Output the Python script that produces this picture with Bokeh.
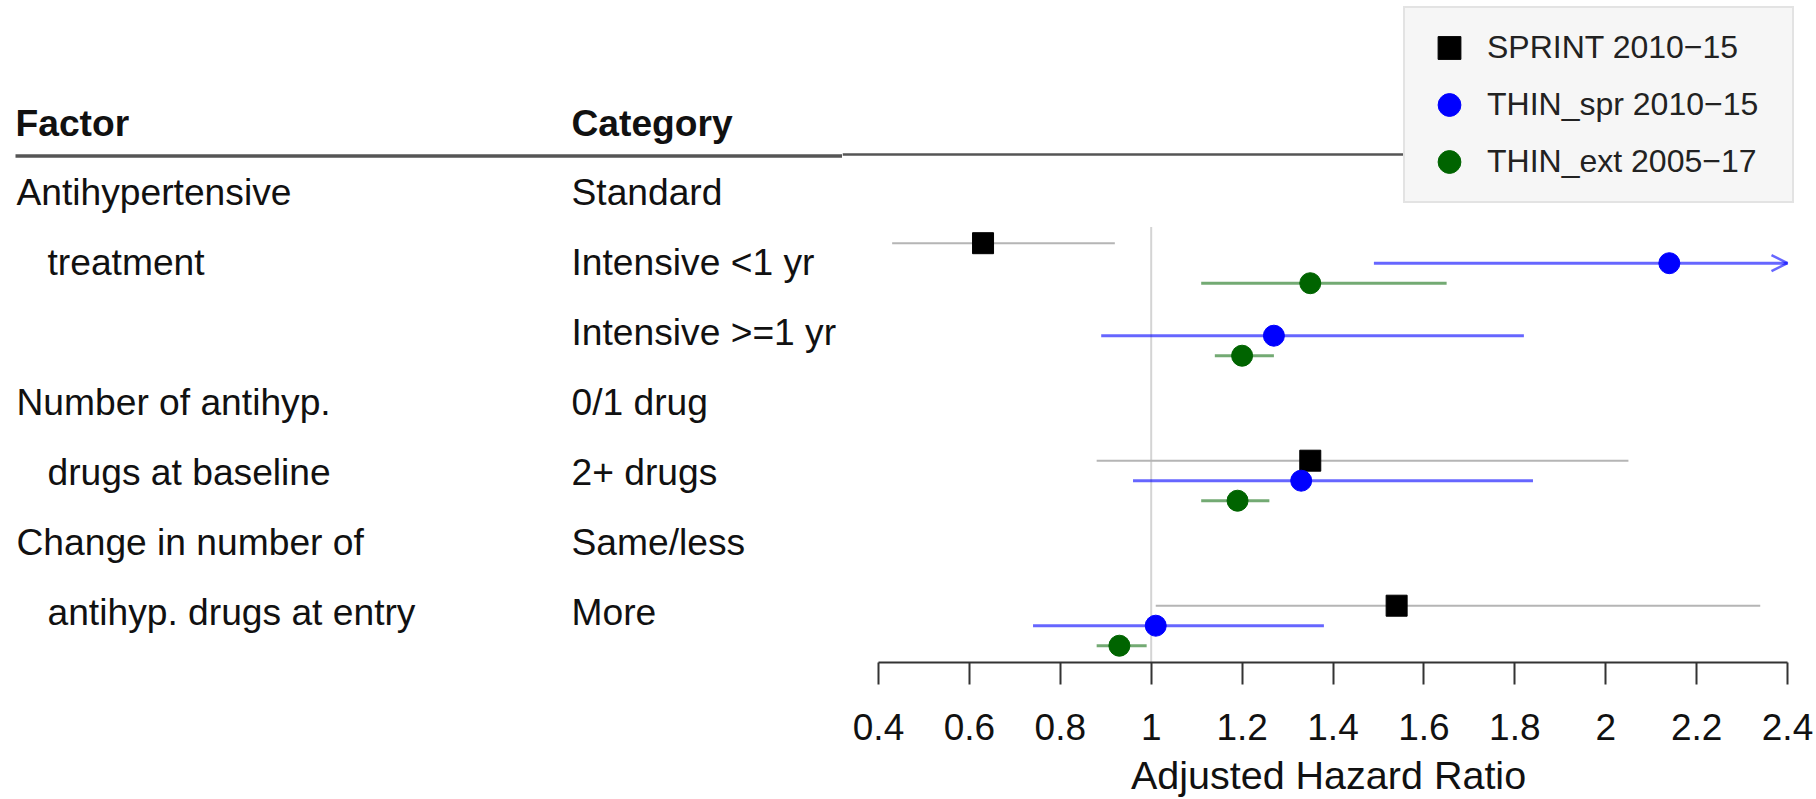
import numpy as np
from bokeh.plotting import figure
from bokeh.layouts import row
from bokeh.models import (ColumnDataSource, Range1d, LinearAxis, FixedTicker,
                          Legend, LegendItem, Arrow, OpenHead)
from bokeh.core.properties import value
from bokeh.embed import file_html
from bokeh.resources import INLINE

nan = np.nan

# ---------------- data ----------------
header_factor = "Factor"
header_category = "Category"
factor_lines = ["Antihypertensive", "treatment", "", "Number of antihyp.",
                "drugs at baseline", "Change in number of", "antihyp. drugs at entry"]
factor_indent = [False, True, False, False, True, False, True]
categories = ["Standard", "Intensive <1 yr", "Intensive >=1 yr", "0/1 drug",
              "2+ drugs", "Same/less", "More"]

series_names = ["SPRINT 2010\u221215", "THIN_spr 2010\u221215", "THIN_ext 2005\u221217"]

sprint_hr = [nan, 0.63, nan, nan, 1.35, nan, 1.54]
sprint_lo = [nan, 0.43, nan, nan, 0.88, nan, 1.01]
sprint_hi = [nan, 0.92, nan, nan, 2.05, nan, 2.34]

thin_spr_hr = [nan, 2.14, 1.27, nan, 1.33, nan, 1.01]
thin_spr_lo = [nan, 1.49, 0.89, nan, 0.96, nan, 0.74]
thin_spr_hi = [nan, 3.10, 1.82, nan, 1.84, nan, 1.38]

thin_ext_hr = [nan, 1.35, 1.20, nan, 1.19, nan, 0.93]
thin_ext_lo = [nan, 1.11, 1.14, nan, 1.11, nan, 0.88]
thin_ext_hi = [nan, 1.65, 1.27, nan, 1.26, nan, 0.99]

tick_values = [0.4, 0.6, 0.8, 1.0, 1.2, 1.4, 1.6, 1.8, 2.0, 2.2, 2.4]
tick_labels = ["0.4", "0.6", "0.8", "1", "1.2", "1.4", "1.6", "1.8", "2", "2.2", "2.4"]
ref_hr = 1.0
axis_title = "Adjusted Hazard Ratio"

# ---------------- styles / layout ----------------
FONT = "Liberation Sans"
TXT = "#111111"
W_L, W_R, H = 842, 972, 799
FRAME_H = 662
BOTTOM = H - FRAME_H
TFS = "37.2px"
AXIS_X0 = 878          # page pixel of the first tick
px_per_hr = 454.5

# ---------------- left: table ----------------
left = figure(width=W_L, height=H, x_range=Range1d(0, W_L), y_range=Range1d(FRAME_H, 0),
              output_backend="svg", toolbar_location=None,
              x_axis_location=None, y_axis_location=None, min_border=0,
              min_border_bottom=BOTTOM, title=None)
left.grid.visible = False
left.outline_line_color = None
left.background_fill_color = "white"
left.border_fill_color = "white"

row_y0, row_step = 191.5, 70.0
text_y = [row_y0 + i * row_step for i in range(len(categories))]
fx = [47 if ind else 16 for ind in factor_indent]

left.text(x=[15, 571], y=[122.5, 122.5], text=[header_factor, header_category],
          text_font=value(FONT), text_font_size=TFS, text_font_style="bold",
          text_baseline="middle", text_color=TXT)
left.text(x=fx, y=text_y, text=factor_lines, text_font=value(FONT),
          text_font_size=TFS, text_baseline="middle", text_color=TXT)
left.text(x=[571] * len(categories), y=text_y, text=categories, text_font=value(FONT),
          text_font_size=TFS, text_baseline="middle", text_color=TXT)
left.segment(x0=[15], y0=[155.5], x1=[W_L], y1=[155.5], line_color="#555555", line_width=3.5)

# ---------------- right: forest plot ----------------
x_min, x_max = tick_values[0], tick_values[-1]
lead = AXIS_X0 - W_L
x_start = x_min - lead / px_per_hr
x_end = x_max + (W_R - lead - 909) / px_per_hr
row_px0, row_px = 190.2, 72.5
y_top = 1 - row_px0 / row_px
y_bot = 1 + (FRAME_H - row_px0) / row_px

right = figure(width=W_R, height=H, x_range=Range1d(x_start, x_end),
               y_range=Range1d(y_bot, y_top), output_backend="svg",
               toolbar_location=None, x_axis_location=None, y_axis_location=None,
               min_border_left=0, min_border_right=0, min_border_top=0,
               min_border_bottom=BOTTOM, title=None)
right.grid.visible = False
right.outline_line_color = None
right.background_fill_color = "white"
right.border_fill_color = "white"

rows = np.arange(1, len(categories) + 1, dtype=float)

# header rule continuing, and reference line at HR = 1
right.segment(x0=[x_start], y0=[0.5], x1=[2.0], y1=[0.5], line_color="#555555", line_width=2.5)
right.segment(x0=[ref_hr], y0=[1.5], x1=[ref_hr], y1=[y_bot], line_color="#d4d4d4", line_width=2)

series = [
    dict(name=series_names[0], hr=sprint_hr, lo=sprint_lo, hi=sprint_hi, off=-0.276,
         marker="square", color="black", ci_color="#b5b5b5", ci_alpha=1.0, ci_w=2),
    dict(name=series_names[1], hr=thin_spr_hr, lo=thin_spr_lo, hi=thin_spr_hi, off=0.0,
         marker="circle", color="#0000ff", ci_color="#0000ff", ci_alpha=0.6, ci_w=3),
    dict(name=series_names[2], hr=thin_ext_hr, lo=thin_ext_lo, hi=thin_ext_hi, off=0.276,
         marker="circle", color="#006400", ci_color="#006400", ci_alpha=0.55, ci_w=3),
]

items = []
for s in series:
    hr = np.array(s["hr"])
    lo = np.array(s["lo"])
    hi = np.array(s["hi"])
    y = rows + s["off"]
    src = ColumnDataSource(dict(hr=hr, lo=np.clip(lo, x_min, x_max),
                                hi=np.clip(hi, x_min, x_max), y=y))
    right.segment(x0="lo", y0="y", x1="hi", y1="y", source=src,
                  line_color=s["ci_color"], line_alpha=s["ci_alpha"], line_width=s["ci_w"])
    over = np.where(np.nan_to_num(hi) > x_max)[0]
    if len(over):
        asrc = ColumnDataSource(dict(x0=np.clip(lo[over], x_min, x_max),
                                     x1=[x_max] * len(over), y=y[over]))
        right.add_layout(Arrow(end=OpenHead(size=16, line_color=s["ci_color"],
                                            line_alpha=s["ci_alpha"], line_width=2.5),
                               x_start="x0", y_start="y", x_end="x1", y_end="y",
                               source=asrc, line_alpha=0))
    r = right.scatter(x="hr", y="y", source=src, marker=s["marker"], size=21,
                      fill_color=s["color"], line_color=s["color"])
    items.append(LegendItem(label=s["name"], renderers=[r]))

xaxis = LinearAxis(ticker=FixedTicker(ticks=tick_values, minor_ticks=[]),
                   bounds=(x_min, x_max), axis_label=axis_title)
xaxis.major_label_overrides = {v: t for v, t in zip(tick_values, tick_labels)}
xaxis.axis_line_color = "#333333"
xaxis.axis_line_width = 2
xaxis.major_tick_line_color = "#333333"
xaxis.major_tick_line_width = 2
xaxis.major_tick_out = 22
xaxis.major_tick_in = 0
xaxis.minor_tick_out = 0
xaxis.minor_tick_in = 0
xaxis.major_label_standoff = 29
xaxis.major_label_text_font = FONT
xaxis.major_label_text_font_size = "37px"
xaxis.major_label_text_color = TXT
xaxis.axis_label_standoff = 10
xaxis.axis_label_text_font = FONT
xaxis.axis_label_text_font_size = "39.5px"
xaxis.axis_label_text_font_style = "normal"
xaxis.axis_label_text_color = TXT
right.add_layout(xaxis, "below")

legend = Legend(items=items, location=(1403 - W_L, FRAME_H - 203), glyph_width=66,
                glyph_height=57, spacing=0, padding=11, margin=0, label_standoff=5,
                label_width=294, label_height=57,
                label_text_font=FONT, label_text_font_size="32px", label_text_color="#222222",
                background_fill_color="#f6f6f6", background_fill_alpha=1.0,
                border_line_color="#cfcfcf", border_line_width=2)
right.add_layout(legend)

layout = row(left, right)
open("out.html", "w").write(file_html(layout, INLINE))
